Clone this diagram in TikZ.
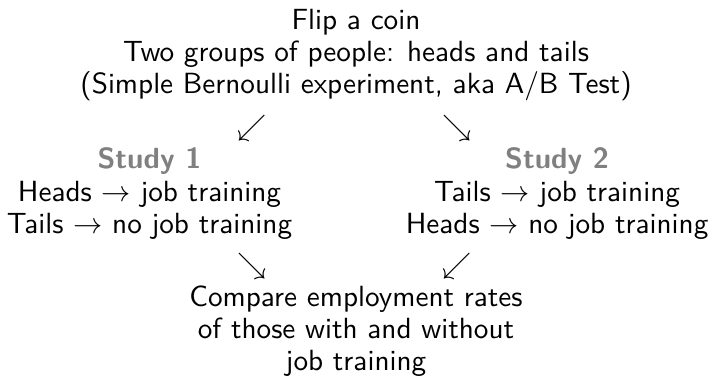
\documentclass[tikz,border=0pt]{standalone}
\usepackage{amssymb}
\definecolor{studygray}{gray}{0.5}
\begin{document}
\begin{tikzpicture}[x=1pt,y=1pt,
  txt/.style={inner sep=0pt, anchor=base, font=\fontsize{10.95}{12}\selectfont\sffamily},
  head/.style={txt, font=\fontsize{10.95}{12}\selectfont\sffamily\bfseries, text=studygray},
  arr/.style={inner sep=0pt, anchor=center, font=\fontsize{10.95}{12}\selectfont}]
\useasboundingbox (0,0) rectangle (267,-144.375);
% top block
\node[txt] (t1) at (133.5,-10.875) {Flip a coin};
\node[txt] (t2) at (133.5,-22.875) {Two groups of people: heads and tails};
\node[txt] (t3) at (133.5,-34.875) {(Simple Bernoulli experiment, aka A/B Test)};
% arrows down
\node[arr] (a1) at (94.5,-48) {$\swarrow$};
\node[arr] (a2) at (171.4,-48) {$\searrow$};
% left block
\node[head] (s1) at (56.06,-63) {Study 1};
\node[txt] (l1) at (56.06,-75.5) {Heads $\rightarrow$ job training};
\node[txt] (l2) at (56.06,-87.5) {Tails $\rightarrow$ no job training};
% right block
\node[head] (s2) at (208.9,-63) {Study 2};
\node[txt] (r1) at (208.9,-75.5) {Tails $\rightarrow$ job training};
\node[txt] (r2) at (208.9,-87.5) {Heads $\rightarrow$ no job training};
% arrows to bottom
\node[arr] (a3) at (94.5,-99.75) {$\searrow$};
\node[arr] (a4) at (171.4,-99.75) {$\swarrow$};
% bottom block
\node[txt] (b1) at (133.5,-115.1) {Compare employment rates};
\node[txt] (b2) at (133.5,-126.9) {of those with and without};
\node[txt] (b3) at (133.5,-138.75) {job training};
\end{tikzpicture}
\end{document}
